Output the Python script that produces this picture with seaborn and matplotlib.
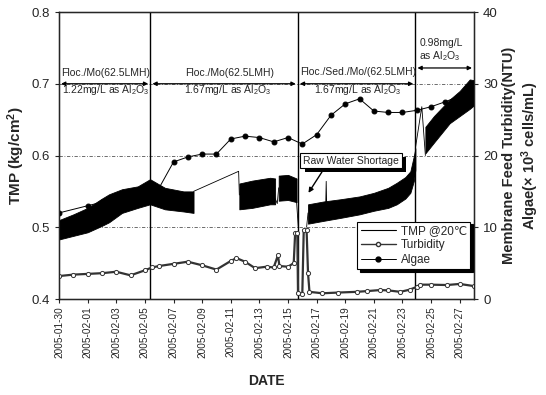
import numpy as np
import pandas as pd
import matplotlib
matplotlib.use("Agg")
import matplotlib.pyplot as plt
import matplotlib.dates as mdates
import matplotlib.patheffects as pe
from matplotlib.lines import Line2D
import seaborn as sns

start = pd.Timestamp("2005-01-30")

# TMP @20C, min/max envelope of the dense record (days since 2005-01-30)
tmp_seg = [1] * 11 + [2] * 4 + [3] * 3 + [4] * 11 + [5] * 6
tmp_days = [0.0, 1.0, 2.0, 3.0, 3.5, 4.4, 5.5, 6.36, 7.4, 8.7, 9.4,
            12.6, 13.5, 14.75, 15.1,
            15.35, 16.0, 16.6,
            17.4, 18.5, 19.65, 21.0, 22.0, 23.0, 23.6, 24.2, 24.55, 24.8, 24.9,
            25.6, 26.2, 27.3, 28.0, 28.7, 29.0]
tmp_low = [0.483, 0.488, 0.493, 0.502, 0.507, 0.520, 0.527, 0.532, 0.525, 0.522, 0.520,
           0.525, 0.527, 0.532, 0.532,
           0.537, 0.538, 0.535,
           0.505, 0.509, 0.513, 0.518, 0.523, 0.527, 0.532, 0.540, 0.548, 0.565, 0.580,
           0.603, 0.618, 0.645, 0.655, 0.665, 0.670]
tmp_high = [0.510, 0.518, 0.527, 0.540, 0.546, 0.553, 0.557, 0.567, 0.555, 0.550, 0.550,
            0.561, 0.565, 0.569, 0.568,
            0.572, 0.573, 0.568,
            0.532, 0.536, 0.539, 0.543, 0.548, 0.555, 0.562, 0.570, 0.578, 0.600, 0.610,
            0.640, 0.655, 0.678, 0.690, 0.706, 0.705]

# thin TMP trace where the record is sparse
link_seg = [1, 1, 1, 2, 2, 2, 3, 3, 4, 4, 5, 5, 5, 6, 6, 6]
link_days = [9.4, 12.55, 12.6, 15.1, 15.25, 15.35, 16.6, 16.72, 17.3, 17.4,
             18.64, 18.67, 18.70, 24.9, 25.35, 25.6]
link_vals = [0.550, 0.578, 0.545, 0.540, 0.533, 0.555, 0.535, 0.500, 0.500, 0.520,
             0.535, 0.564, 0.535, 0.610, 0.668, 0.600]

# turbidity (NTU)
turb_days = [0, 1, 2, 3, 4, 5, 6, 6.5, 7, 8, 9, 10, 11, 12, 12.4, 13, 13.7, 14.5, 15,
             15.3, 15.4, 16, 16.4, 16.5, 16.65, 16.7, 17.0, 17.1, 17.3, 17.4, 17.5,
             18.4, 19.5, 20.8, 21.5, 22.45, 23.0, 23.85, 24.5, 25.0, 25.2, 26, 27.1, 28, 29]
turb_vals = [3.2, 3.4, 3.5, 3.6, 3.8, 3.3, 4.0, 4.4, 4.6, 4.9, 5.2, 4.7, 4.1, 5.3, 5.7,
             5.2, 4.3, 4.5, 4.4, 6.1, 4.6, 4.5, 5.0, 9.2, 9.2, 0.8, 0.75, 9.6, 9.6, 3.6,
             1.0, 0.8, 0.9, 1.0, 1.1, 1.25, 1.2, 1.0, 1.3, 1.7, 2.0, 2.0, 1.95, 2.1, 1.8]

# algae (x10^3 cells/mL), daily samples
algae_days = [0, 2, 3, 4, 5, 6, 7, 8, 9, 10, 11, 12, 13, 14, 15, 16, 17, 18, 19, 20,
              21, 22, 23, 24, 25, 26, 27, 28]
algae_vals = [12.0, 13.0, 13.5, 14.0, 14.5, 15.0, 15.5, 19.1, 19.8, 20.2, 20.2, 22.3,
              22.7, 22.5, 21.9, 22.5, 21.6, 22.9, 25.6, 27.2, 27.9, 26.2, 26.0, 26.0,
              26.3, 26.8, 27.5, 28.3]

# operating phase boundaries (days)
phase_bounds = [6.38, 16.68, 24.9]


def to_date(days):
    return start + pd.to_timedelta(np.asarray(days, dtype=float), unit="D")


sns.set_style("ticks")
plt.rcParams["font.family"] = ["Liberation Sans", "DejaVu Sans"]
plt.rcParams["mathtext.default"] = "regular"

fig = plt.figure(figsize=(5.46, 3.95), dpi=100)
ax = fig.add_axes([0.1081, 0.2430, 0.7601, 0.7266])
ax2 = ax.twinx()

tmp = pd.DataFrame({"seg": tmp_seg, "date": to_date(tmp_days),
                    "low": tmp_low, "high": tmp_high})
for _, g in tmp.groupby("seg"):
    ax.fill_between(g["date"], g["low"], g["high"], color="black", lw=0.6)

link = pd.DataFrame({"seg": link_seg, "date": to_date(link_days), "val": link_vals})
for _, g in link.groupby("seg"):
    ax.plot(g["date"], g["val"], color="black", lw=0.6)

for b in phase_bounds:
    ax.axvline(to_date([b])[0], color="black", lw=1.0, zorder=3)

ax.set_xlim(start, to_date([29])[0])
ax.set_ylim(0.4, 0.8)
ax.set_yticks([0.4, 0.5, 0.6, 0.7, 0.8])
ax.yaxis.grid(True, color="#555555", lw=0.6, linestyle=(0, (4, 2, 1, 2)))
ticks = pd.date_range("2005-01-30", "2005-02-27", freq="2D")
ax.set_xticks(ticks)
ax.xaxis.set_major_formatter(mdates.DateFormatter("%Y-%m-%d"))
ax.tick_params(axis="x", labelrotation=90, labelsize=7.2, length=3, width=0.8, pad=2)
ax.tick_params(axis="y", labelsize=9.5, length=3, width=0.8)
for s in ax.spines.values():
    s.set_linewidth(1.0)
    s.set_color("black")

sns.lineplot(x=to_date(turb_days), y=turb_vals, ax=ax2, sort=False, estimator=None,
             color="#333333", lw=1.6, marker="o", markersize=3,
             markerfacecolor="white", markeredgecolor="#333333", markeredgewidth=0.7)
sns.lineplot(x=to_date(algae_days), y=algae_vals, ax=ax2, sort=False, estimator=None,
             color="black", lw=0.7, marker="o", markersize=3.5,
             markerfacecolor="black", markeredgecolor="black")
ax2.set_ylim(0, 40)
ax2.set_yticks([0, 10, 20, 30, 40])
ax2.tick_params(axis="y", labelsize=9.5, length=3, width=0.8)
ax2.set_xlim(start, to_date([29])[0])

ax.set_xlabel("DATE", fontsize=10, fontweight="bold", labelpad=12)
ax.set_ylabel("TMP (kg/cm$^2$)", fontsize=11, fontweight="bold")
ax.yaxis.set_label_coords(-0.077, 0.5)
ax2.set_ylabel("Membrane Feed Turbidity(NTU)\nAlgae(\u00d7 10$^3$ cells/mL)",
               fontsize=10.5, fontweight="bold", linespacing=1.2)
ax2.yaxis.set_label_coords(1.067, 0.5)

# phase arrows and labels
arrow_kw = dict(arrowstyle="<|-|>", color="black", lw=0.9, mutation_scale=6,
                shrinkA=1.5, shrinkB=1.5)
edges = [0] + phase_bounds + [29]
arrow_y = [0.7, 0.7, 0.7, 0.722]
for i in range(4):
    ax.annotate("", xy=(to_date([edges[i + 1]])[0], arrow_y[i]),
                xytext=(to_date([edges[i]])[0], arrow_y[i]),
                arrowprops=arrow_kw, zorder=4)

fs = 7.5
ax.text(to_date([3.25])[0], 0.715, "Floc./Mo(62.5LMH)", ha="center", va="center", fontsize=fs)
ax.text(to_date([3.25])[0], 0.691, "1.22mg/L as Al$_2$O$_3$", ha="center", va="center", fontsize=fs)
ax.text(to_date([11.9])[0], 0.715, "Floc./Mo(62.5LMH)", ha="center", va="center", fontsize=fs)
ax.text(to_date([11.8])[0], 0.691, "1.67mg/L as Al$_2$O$_3$", ha="center", va="center", fontsize=fs)
ax.text(to_date([20.9])[0], 0.716, "Floc./Sed./Mo/(62.5LMH)", ha="center", va="center", fontsize=fs)
ax.text(to_date([20.9])[0], 0.691, "1.67mg/L as Al$_2$O$_3$", ha="center", va="center", fontsize=fs)
ax.text(to_date([26.7])[0], 0.757, "0.98mg/L", ha="center", va="center", fontsize=fs)
ax.text(to_date([26.6])[0], 0.738, "as Al$_2$O$_3$", ha="center", va="center", fontsize=fs)

# raw water shortage callout with a solid shadow
bx, by = to_date([20.4])[0], 0.593
callout = ax.text(bx, by, "Raw Water Shortage", ha="center", va="center", fontsize=7.5,
                  bbox=dict(boxstyle="square,pad=0.25", fc="white", ec="black", lw=0.8),
                  zorder=6)
callout.get_bbox_patch().set_path_effects(
    [pe.SimplePatchShadow(offset=(3, -3), shadow_rgbFace="black", alpha=1.0), pe.Normal()])
ax.annotate("", xy=(to_date([17.43])[0], 0.548), xytext=(to_date([18.37])[0], 0.577),
            arrowprops=dict(arrowstyle="-|>", color="black", lw=1.0, mutation_scale=7,
                            shrinkA=0, shrinkB=0), zorder=6)

handles = [
    Line2D([], [], color="black", lw=0.8),
    Line2D([], [], color="#333333", lw=1.0, marker="o", markersize=3,
           markerfacecolor="white", markeredgecolor="#333333"),
    Line2D([], [], color="black", lw=0.7, marker="o", markersize=3.5),
]
leg = ax2.legend(handles, ["TMP @20\u2103", "Turbidity", "Algae"], loc="upper left",
                 bbox_to_anchor=(0.718, 0.27), fontsize=8.5, handlelength=3,
                 frameon=True, fancybox=False, framealpha=1, edgecolor="black",
                 shadow={"color": "black", "alpha": 1.0}, borderpad=0.3,
                 labelspacing=0.2, handletextpad=0.4, borderaxespad=0)
leg.get_frame().set_linewidth(0.8)

fig.savefig("out.png", dpi=100)
